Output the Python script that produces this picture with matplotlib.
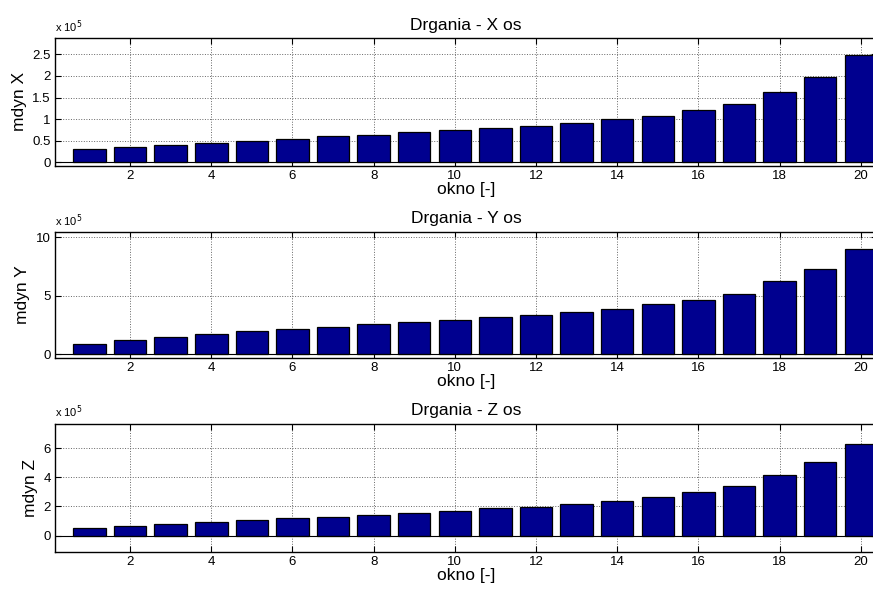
import matplotlib
matplotlib.use("Agg")
import matplotlib.pyplot as plt
import numpy as np

# Dane (mdyn, jednostki 1e5)
okno = list(range(1, 21))
mdyn_x = [0.31, 0.35, 0.39, 0.45, 0.49, 0.55, 0.60, 0.64, 0.69, 0.74,
          0.79, 0.85, 0.91, 1.00, 1.08, 1.20, 1.34, 1.63, 1.97, 2.48]
mdyn_y = [0.88, 1.20, 1.48, 1.73, 1.97, 2.19, 2.33, 2.59, 2.76, 2.96,
          3.19, 3.36, 3.59, 3.87, 4.30, 4.64, 5.18, 6.24, 7.32, 9.00]
mdyn_z = [0.53, 0.64, 0.78, 0.94, 1.08, 1.21, 1.30, 1.44, 1.58, 1.69,
          1.88, 1.99, 2.17, 2.38, 2.67, 2.97, 3.40, 4.14, 5.03, 6.28]
skala = 1e5

tytuly = ['Drgania - X os', 'Drgania - Y os', 'Drgania - Z os']
ylabele = ['mdyn X', 'mdyn Y', 'mdyn Z']
yticki = [[0, 0.5, 1, 1.5, 2, 2.5], [0, 5, 10], [0, 2, 4, 6]]
ytick_txt = [['0', '0.5', '1', '1.5', '2', '2.5'], ['0', '5', '10'], ['0', '2', '4', '6']]
ylimy = [(-0.08, 2.88), (-0.34, 10.48), (-1.1, 7.67)]
dane = [np.array(mdyn_x) * skala, np.array(mdyn_y) * skala, np.array(mdyn_z) * skala]

plt.rcParams['font.family'] = ['Liberation Sans', 'DejaVu Sans']

W, H = 873, 590
fig = plt.figure(figsize=(W / 100, H / 100), dpi=100)

# pozycje osi w pikselach (lewo, gora, dol)
lewo, prawo = 55, 877
gory = [38, 231.7, 423.7]
doly = [165.7, 358.3, 551.7]

for i in range(3):
    ax = fig.add_axes([lewo / W, 1 - doly[i] / H, (prawo - lewo) / W, (doly[i] - gory[i]) / H])
    ax.set_axisbelow(True)
    ax.bar(okno, dane[i] / skala, width=0.8, color='#00008F', edgecolor='black', linewidth=0.9, zorder=2)
    ax.axhline(0, color='black', linewidth=0.8, zorder=3)
    ax.set_xlim(0.15, 20.4)
    ax.set_ylim(*ylimy[i])
    ax.set_xticks(range(2, 21, 2))
    ax.set_yticks(yticki[i])
    ax.set_yticklabels(ytick_txt[i])
    ax.grid(True, linestyle=':', color='#666666', linewidth=0.7)
    ax.tick_params(direction='in', top=True, right=True, labelsize=9.5, length=4, width=0.8, pad=3)
    for s in ax.spines.values():
        s.set_linewidth(1.0)
    ax.set_title(tytuly[i], fontsize=12.5, pad=6)
    ax.set_xlabel('okno [-]', fontsize=12.5, labelpad=0)
    ax.set_ylabel(ylabele[i], fontsize=12.5, labelpad=4)
    ax.text(0.0, 1.025, r'x 10$^5$', transform=ax.transAxes, fontsize=8, ha='left', va='bottom')

plt.savefig('out.png', dpi=100)
